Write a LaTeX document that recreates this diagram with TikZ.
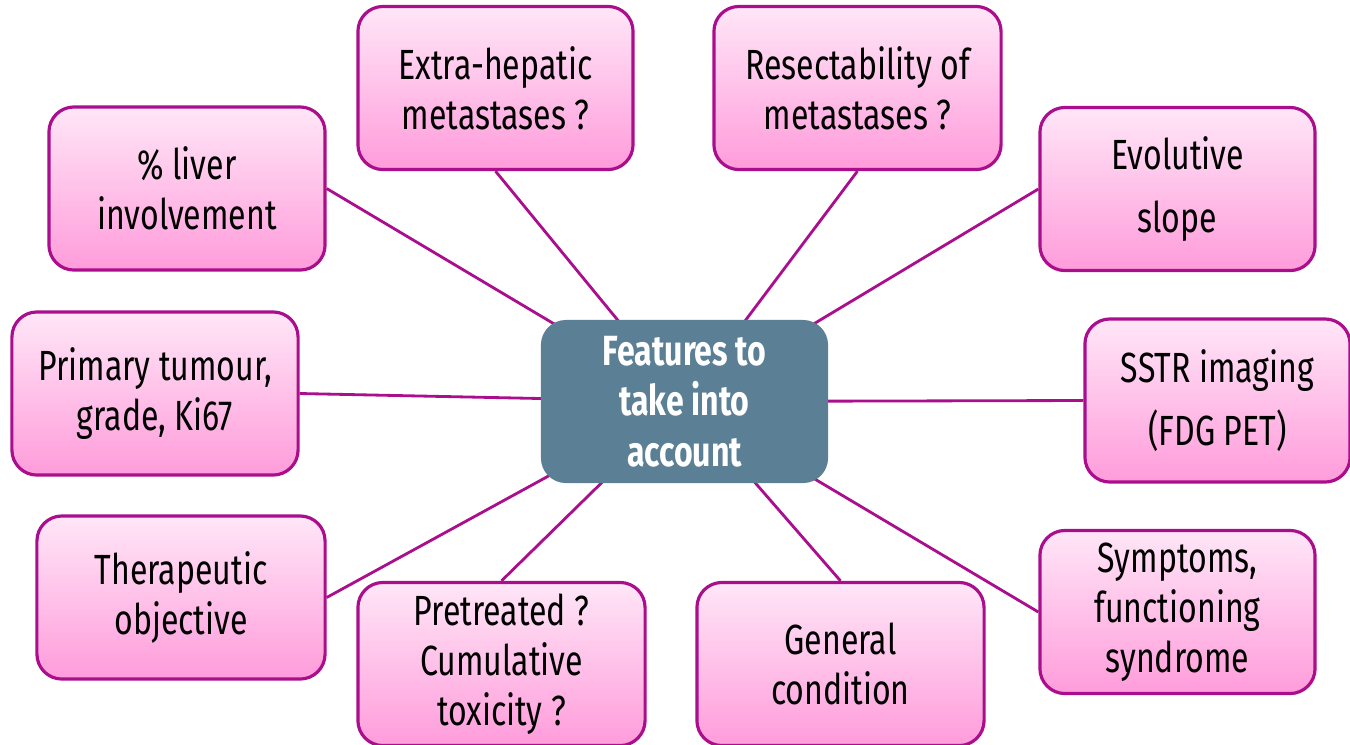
\documentclass[tikz,border=0pt]{standalone}
\usepackage{fontspec}
\setmainfont{Fira Sans}[FakeStretch=0.76]
\usetikzlibrary{backgrounds}

\definecolor{featedge}{RGB}{170,14,140}
\definecolor{feattop}{RGB}{255,230,247}
\definecolor{featbottom}{RGB}{255,156,219}
\definecolor{hubfill}{RGB}{91,127,149}

\begin{document}
\begin{tikzpicture}[x=0.01cm, y=-0.01cm,
  feature/.style={draw=featedge, line width=0.9pt, rounded corners=0.25cm,
    top color=feattop, bottom color=featbottom, align=center,
    minimum height=1.63cm, inner sep=0pt, font=\fontsize{12}{14.2}\selectfont,
    execute at begin node={\rule{0pt}{11.6pt}}},
  hub/.style={fill=hubfill, rounded corners=0.25cm, align=center, text=white,
    minimum width=2.87cm, minimum height=1.63cm, inner sep=0pt,
    font=\fontsize{12}{14.4}\selectfont\bfseries},
  link/.style={draw=featedge, line width=0.8pt}]
  \useasboundingbox (0,0) rectangle (1350,744);
  % centre node
  \node[hub] (hub) at (684.5,401.5) {Features to\\take into\\account};
  % surrounding features, clockwise from top left
  \node[feature, minimum width=2.76cm] (liver) at (187,188.5) {\% liver\\involvement};
  \node[feature, minimum width=2.75cm] (extra) at (495.5,88) {Extra-hepatic\\metastases ?};
  \node[feature, minimum width=2.87cm] (resect) at (857.5,88) {Resectability of\\metastases ?};
  \node[feature, minimum width=2.75cm] (slope) at (1177.5,189) {Evolutive\\[0.14cm]slope};
  \node[feature, minimum width=2.65cm] (sstr) at (1217.5,400.5) {SSTR imaging\\[0.13cm](FDG PET)};
  \node[feature, minimum width=2.75cm] (symptoms) at (1177.5,612) {Symptoms,\\functioning\\syndrome};
  \node[feature, minimum width=2.87cm] (general) at (840.5,664) {General\\condition};
  \node[feature, minimum width=2.87cm] (pretreat) at (501.5,664) {Pretreated ?\\Cumulative\\toxicity ?};
  \node[feature, minimum width=2.88cm] (objective) at (181,597.5) {Therapeutic\\objective};
  \node[feature, minimum width=2.86cm] (primary) at (155,393.5) {Primary tumour,\\grade, Ki67};
  % spokes, drawn behind the nodes
  \begin{scope}[on background layer]
    \draw[link] (liver.east) -- (hub.center);
    \draw[link] (extra.south) -- (hub.center);
    \draw[link] (resect.south) -- (hub.center);
    \draw[link] (slope.west) -- (hub.center);
    \draw[link] (sstr.west) -- (hub.center);
    \draw[link] (symptoms.west) -- (hub.center);
    \draw[link] (general.north) -- (hub.center);
    \draw[link] (pretreat.north) -- (hub.center);
    \draw[link] (objective.east) -- (hub.center);
    \draw[link] (primary.east) -- (hub.center);
  \end{scope}
\end{tikzpicture}
\end{document}
